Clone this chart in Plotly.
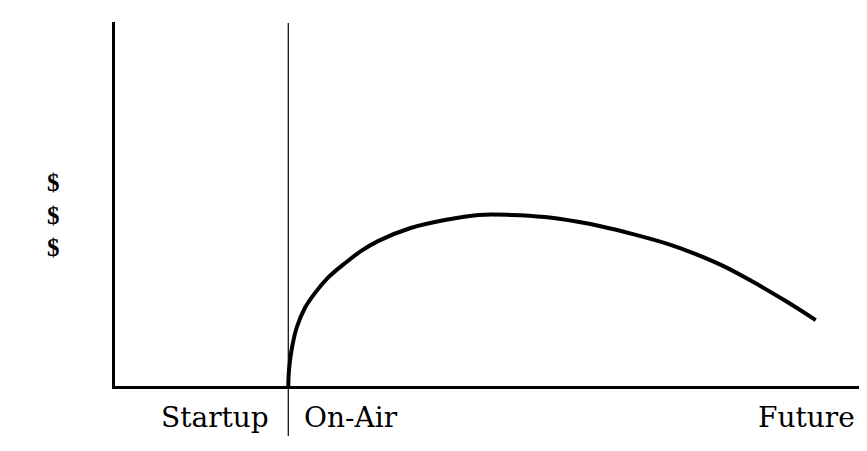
import plotly.graph_objects as go

# Data (arbitrary units: time 0-100, revenue 0-100)
time_vals = [22.8, 22.9, 23.2, 23.9, 25.0, 26.4, 28.0, 30.3, 32.4, 34.6, 38.9, 43.4, 47.8,
             52.1, 56.6, 60.9, 63.9, 68.4, 72.8, 76.0, 79.8, 83.7, 88.2, 92.2]
revenue_vals = [0.0, 4.5, 9.5, 16.0, 21.5, 25.8, 29.7, 33.8, 37.1, 39.8, 43.4, 45.6, 47.0,
                47.0, 46.4, 45.1, 43.9, 41.6, 39.0, 36.6, 33.2, 28.9, 23.4, 18.1]
divider_x = 22.8
phase_labels = ["Startup", "On-Air", "Future"]
phase_label_x = [13.2, 31.1, 91.0]
y_label = ["$", "$", "$"]

PLOT_W, PLOT_H = 760.0, 364.0
LEFT, TOP = 107.0, 14.0


def px_to_paper_y(py):
    return 1 - (py - TOP) / PLOT_H


def px_to_paper_x(px):
    return (px - LEFT) / PLOT_W


fig = go.Figure()
fig.add_trace(go.Scatter(
    x=time_vals, y=revenue_vals, mode="lines",
    line=dict(color="black", width=4, shape="spline", smoothing=1.0),
    hoverinfo="skip", showlegend=False,
))

fig.add_shape(type="line", xref="x", yref="paper",
              x0=divider_x, x1=divider_x, y0=px_to_paper_y(428), y1=px_to_paper_y(15),
              line=dict(color="black", width=1.2))

label_font = dict(family="DejaVu Serif", size=28, color="black")
for lab, lx in zip(phase_labels, phase_label_x):
    fig.add_annotation(text=lab, x=lx, xref="x", y=px_to_paper_y(410), yref="paper",
                       xanchor="center", yanchor="middle", showarrow=False, font=label_font)

dollar_font = dict(family="Liberation Serif", size=25, color="black")
fig.add_annotation(text="<br>".join("<b>" + s + "</b>" for s in y_label),
                   x=px_to_paper_x(45), xref="paper",
                   y=px_to_paper_y(207), yref="paper", xanchor="center", yanchor="middle",
                   align="center", showarrow=False, font=dollar_font)

fig.update_layout(
    width=867, height=451,
    margin=dict(l=107, r=0, t=14, b=73),
    paper_bgcolor="white", plot_bgcolor="white",
    xaxis=dict(range=[0, 100], showgrid=False, zeroline=False, showticklabels=False,
               ticks="", showline=True, linecolor="black", linewidth=3),
    yaxis=dict(range=[0, 100], showgrid=False, zeroline=False, showticklabels=False,
               ticks="", showline=True, linecolor="black", linewidth=3),
)

fig.write_html("out.html")
